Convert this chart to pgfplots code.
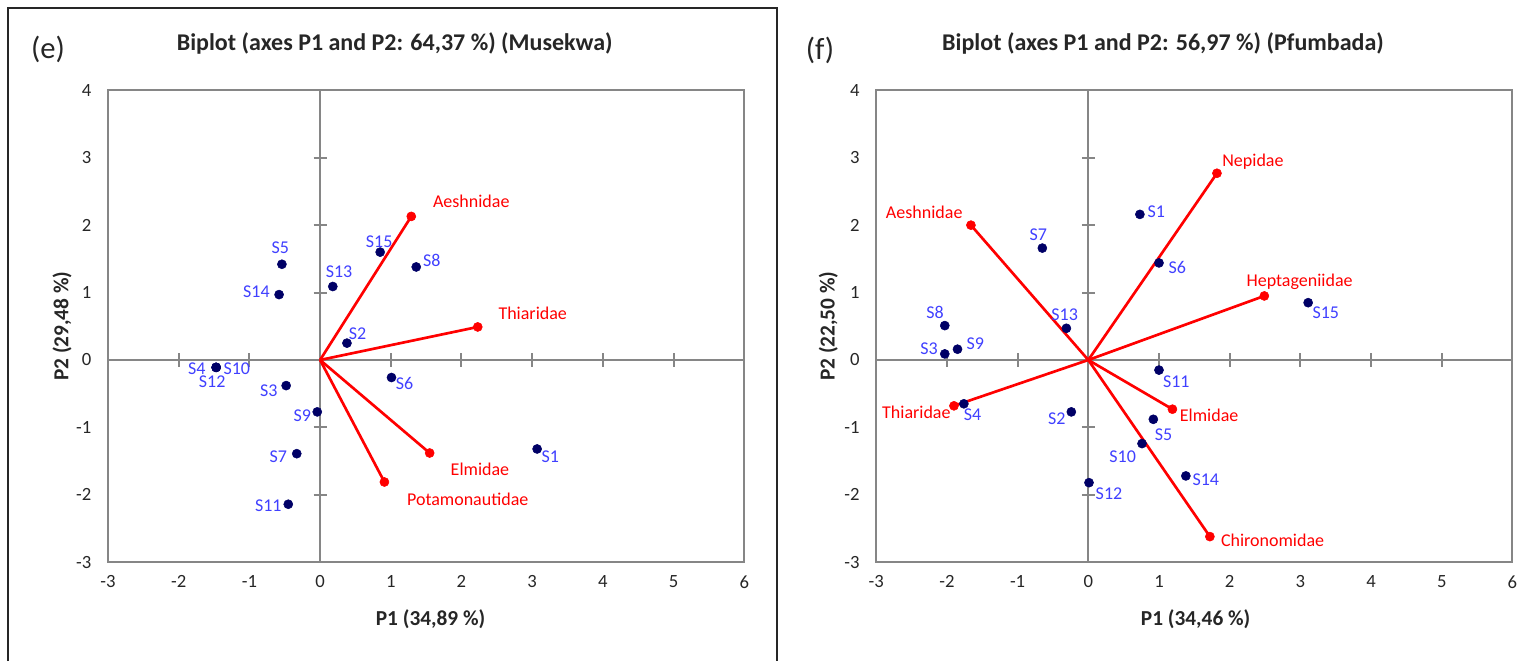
\documentclass[border=0pt]{standalone}
\usepackage{fontspec}
\setmainfont{Carlito}
\usepackage{pgfplots}
\pgfplotsset{compat=1.18}
\definecolor{ptcol}{RGB}{0,0,102}
\definecolor{lblblue}{RGB}{64,64,255}
\definecolor{axgray}{RGB}{134,134,134}

\pgfplotsset{
  biplot/.style={
    scale only axis, width=477.2pt, height=353.9pt,
    xmin=-3, xmax=6, ymin=-3, ymax=4,
    xtick={-3,...,6}, ytick={-3,...,4},
    major tick length=0pt,
    axis line style={axgray, line width=1.5pt},
    /pgf/number format/assume math mode=true,
    ticklabel style={font=\fontsize{14}{16}\selectfont, text=black!85},
    yticklabel style={xshift=-9pt},
    xticklabel style={yshift=-6.6pt},
    label style={font=\bfseries\fontsize{16}{19}\selectfont, text=black!85, anchor=center},
    clip=false,
  },
  vec/.style={red, line width=2pt, no markers},
}

\newcommand\zerolines{%
  \draw[axgray, line width=1.5pt] (axis cs:0,-3) -- (axis cs:0,4);
  \draw[axgray, line width=1.5pt] (axis cs:-3,0) -- (axis cs:6,0);
  \pgfplotsinvokeforeach{-2,-1,1,2,3}{%
    \draw[axgray, line width=1.5pt] ([xshift=-4.9pt]axis cs:0,##1) -- ([xshift=4.9pt]axis cs:0,##1);}
  \pgfplotsinvokeforeach{-2,-1,1,2,3,4,5}{%
    \draw[axgray, line width=1.5pt] ([yshift=-4.9pt]axis cs:##1,0) -- ([yshift=4.9pt]axis cs:##1,0);}
}

\begin{document}
\begin{tikzpicture}
\useasboundingbox (0pt,0pt) rectangle (1143pt,-495.75pt);
% panel frames
\draw[black!85, line width=1.1pt] (6pt,-495.75pt) -- (6pt,-6pt) -- (582.75pt,-6pt) -- (582.75pt,-495.75pt);

% titles
\node[font=\fontsize{23}{27}\selectfont, text=black!85] at (36pt,-36.75pt) {(e)};
\node[font=\bfseries\fontsize{18}{22}\selectfont, text=black!85] at (296pt,-32.25pt)
  {Biplot (axes P1 and P2: 64,37 \%) (Musekwa)};
\node[font=\fontsize{23}{27}\selectfont, text=black!85] at (615pt,-37.5pt) {(f)};
\node[font=\bfseries\fontsize{18}{22}\selectfont, text=black!85] at (872.25pt,-32.25pt)
  {Biplot (axes P1 and P2: 56,97 \%) (Pfumbada)};

\begin{axis}[biplot, at={(81pt,-421.65pt)}, anchor=south west,
  xlabel={P1 (34,89 \%)}, ylabel={P2 (29,48 \%)},
  xlabel style={at={(axis description cs:0.507,-0.121)}},
  ylabel style={at={(axis description cs:-0.0723,0.5)}}]
  \zerolines
  \addplot[vec] coordinates {(0,0) (1.29,2.13)};
  \addplot[vec] coordinates {(0,0) (2.23,0.49)};
  \addplot[vec] coordinates {(0,0) (1.55,-1.38)};
  \addplot[vec] coordinates {(0,0) (0.91,-1.81)};
  % variables: x y label dx dy (label offset in px, dy upward)
  \addplot[only marks, mark=*, mark size=3.4pt, color=red,
    point meta=explicit symbolic, nodes near coords,
    visualization depends on={value \thisrow{dx} \as \mydx},
    visualization depends on={value \thisrow{dy} \as \mydy},
    every node near coord/.append style={anchor=center, inner sep=0pt,
      xshift={(\mydx)*0.75pt}, yshift={(\mydy)*0.75pt},
      font=\fontsize{13.5}{16}\selectfont, text=red}]
    table[meta=lbl] {
x y lbl dx dy
1.29 2.13 Aeshnidae 60 14.7
2.23 0.49 Thiaridae 55 14
1.55 -1.38 Elmidae 50.3 -16.6
0.91 -1.81 Potamonautidae 83.3 -17
};
  % sites
  \addplot[only marks, mark=*, mark size=3.4pt, color=ptcol,
    point meta=explicit symbolic, nodes near coords,
    visualization depends on={value \thisrow{dx} \as \mydx},
    visualization depends on={value \thisrow{dy} \as \mydy},
    every node near coord/.append style={anchor=center, inner sep=0pt,
      xshift={(\mydx)*0.75pt}, yshift={(\mydy)*0.75pt},
      font=\fontsize{13.5}{16}\selectfont, text=lblblue}]
    table[meta=lbl] {
x y lbl dx dy
3.07 -1.32 S1 13.3 -7.7
0.38 0.25 S2 10.7 9.3
-0.48 -0.38 S3 -17.3 -5
-1.47 -0.11 S4 -19.3 -1.2
-0.54 1.42 S5 -1.7 16.6
1.01 -0.26 S6 13 -6
-0.33 -1.39 S7 -18.4 -3.3
1.36 1.38 S8 15.7 6.3
-0.04 -0.77 S9 -15 -3.7
-1.47 -0.11 S10 20.7 -1.7
-0.45 -2.14 S11 -20 -1
-1.47 -0.11 S12 -4 -14.8
0.18 1.09 S13 6.3 14.4
-0.58 0.97 S14 -22.6 3
0.85 1.60 S15 -1 10.6
};
\end{axis}

\begin{axis}[biplot, at={(657.15pt,-421.65pt)}, anchor=south west,
  xlabel={P1 (34,46 \%)}, ylabel={P2 (22,50 \%)},
  xlabel style={at={(axis description cs:0.502,-0.121)}},
  ylabel style={at={(axis description cs:-0.0754,0.5)}}]
  \zerolines
  \addplot[vec] coordinates {(0,0) (-1.66,2.00)};
  \addplot[vec] coordinates {(0,0) (1.82,2.77)};
  \addplot[vec] coordinates {(0,0) (2.49,0.95)};
  \addplot[vec] coordinates {(0,0) (-1.90,-0.68)};
  \addplot[vec] coordinates {(0,0) (1.19,-0.73)};
  \addplot[vec] coordinates {(0,0) (1.72,-2.62)};
  \addplot[only marks, mark=*, mark size=3.4pt, color=red,
    point meta=explicit symbolic, nodes near coords,
    visualization depends on={value \thisrow{dx} \as \mydx},
    visualization depends on={value \thisrow{dy} \as \mydy},
    every node near coord/.append style={anchor=center, inner sep=0pt,
      xshift={(\mydx)*0.75pt}, yshift={(\mydy)*0.75pt},
      font=\fontsize{13.5}{16}\selectfont, text=red}]
    table[meta=lbl] {
x y lbl dx dy
-1.66 2.00 Aeshnidae -46.7 13.3
1.82 2.77 Nepidae 36 11.3
2.49 0.95 Heptageniidae 35.3 14.3
-1.90 -0.68 Thiaridae -37.6 -6.3
1.19 -0.73 Elmidae 36.7 -6
1.72 -2.62 Chironomidae 62.7 -3.3
};
  \addplot[only marks, mark=*, mark size=3.4pt, color=ptcol,
    point meta=explicit symbolic, nodes near coords,
    visualization depends on={value \thisrow{dx} \as \mydx},
    visualization depends on={value \thisrow{dy} \as \mydy},
    every node near coord/.append style={anchor=center, inner sep=0pt,
      xshift={(\mydx)*0.75pt}, yshift={(\mydy)*0.75pt},
      font=\fontsize{13.5}{16}\selectfont, text=lblblue}]
    table[meta=lbl] {
x y lbl dx dy
0.73 2.16 S1 16.3 2.6
-0.24 -0.77 S2 -14.6 -6.6
-2.03 0.09 S3 -15.7 5
-1.76 -0.65 S4 8.7 -11
0.92 -0.88 S5 10.3 -15
1.00 1.44 S6 18.3 -4.4
-0.65 1.66 S7 -4 13.7
-2.03 0.51 S8 -9.7 13.4
-1.85 0.16 S9 17.7 5.7
0.76 -1.24 S10 -19.4 -13.6
1.00 -0.15 S11 17.3 -11.3
0.01 -1.82 S12 20 -11.3
-0.31 0.47 S13 -1.7 13.7
1.38 -1.72 S14 20 -3.6
3.11 0.85 S15 17.7 -9.6
};
\end{axis}
\end{tikzpicture}
\end{document}
